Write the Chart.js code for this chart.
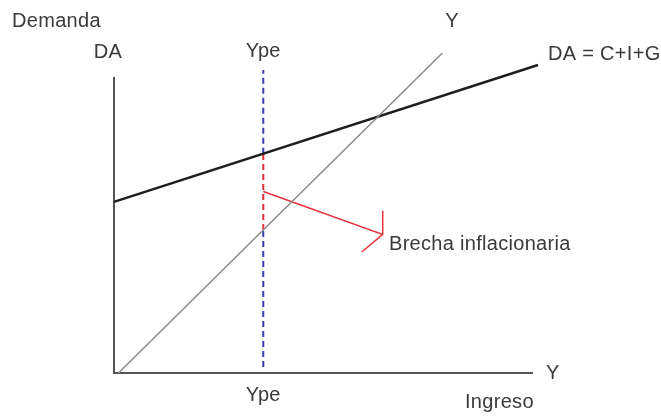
<!DOCTYPE html>
<html>
<head>
<meta charset="utf-8">
<script src="https://cdn.jsdelivr.net/npm/chart.js@4.4.1/dist/chart.umd.min.js"></script>
<style>
  html, body { margin: 0; padding: 0; background: #fff; }
  #wrap { width: 661px; height: 416px; }
</style>
</head>
<body>
<div id="wrap"><canvas id="chart" width="661" height="416"></canvas></div>
<script>
// ingreso (Y) en el eje horizontal, demanda (DA) en el vertical
const ype = 5;
const daLine = [[0, 5.8], [14.2, 10.44]];          // DA = C+I+G
const yLine = [[0.15, 0], [11, 10.85]];            // recta de 45 grados
const ypeBlueLow = [[ype, 0.2], [ype, 4.85]];
const ypeRed = [[ype, 4.85], [ype, 7.43]];
const ypeBlueHigh = [[ype, 7.43], [ype, 10.27]];
const brecha = [[5, 6.15], [9, 4.7], [9, 5.5], [9, 4.7], [8.3, 4.1]];

const textColor = '#3a3a3a';
const font = '20px "Liberation Sans", Arial, sans-serif';

function pts(arr) {
    return arr.map(p => ({ x: p[0], y: p[1] }));
}

const labelsPlugin = {
    id: 'labels',
    afterDraw(chart) {
        const c = chart.ctx;
        const xs = chart.scales.x;
        const ys = chart.scales.y;
        c.save();
        c.fillStyle = textColor;
        c.font = font;
        c.letterSpacing = '0.3px';
        c.textBaseline = 'middle';
        c.textAlign = 'left';
        c.fillText('Demanda', 12, 21);
        c.fillText('DA = C+I+G', 548, 54);
        c.fillText('Brecha inflacionaria', 389, 244);
        c.fillText('Y', 546, ys.getPixelForValue(0));
        c.fillText('Ingreso', 465, 402);
        c.textAlign = 'center';
        c.fillText('DA', 108, 52);
        c.fillText('Ype', xs.getPixelForValue(ype), 51);
        c.fillText('Ype', xs.getPixelForValue(ype), 395);
        c.fillText('Y', 452, 21);
        c.restore();
    }
};

new Chart(document.getElementById('chart'), {
    type: 'scatter',
    data: {
        datasets: [
            { data: pts(yLine), borderColor: '#8a8a8a', borderWidth: 1.5 },
            { data: pts(daLine), borderColor: '#1e1e1e', borderWidth: 2.5 },
            { data: pts(ypeBlueLow), borderColor: '#3b3bb0', borderWidth: 2, borderDash: [6, 4] },
            { data: pts(ypeBlueHigh), borderColor: '#3b3bb0', borderWidth: 2, borderDash: [6, 4] },
            { data: pts(ypeRed), borderColor: '#e0303a', borderWidth: 2, borderDash: [6, 4] },
            { data: pts(brecha), borderColor: '#e8323c', borderWidth: 1.5 }
        ].map(d => Object.assign(d, { showLine: true, pointRadius: 0, clip: false, fill: false }))
    },
    options: {
        responsive: false,
        animation: false,
        events: [],
        layout: { padding: { left: 114, right: 129, top: 78, bottom: 43 } },
        plugins: { legend: { display: false }, tooltip: { enabled: false } },
        scales: {
            x: {
                type: 'linear', min: 0, max: 14,
                ticks: { display: false },
                grid: { display: false, drawTicks: false },
                border: { display: true, color: '#555', width: 2 }
            },
            y: {
                type: 'linear', min: 0, max: 10,
                ticks: { display: false },
                grid: { display: false, drawTicks: false },
                border: { display: true, color: '#555', width: 2 }
            }
        }
    },
    plugins: [labelsPlugin]
});
</script>
</body>
</html>
